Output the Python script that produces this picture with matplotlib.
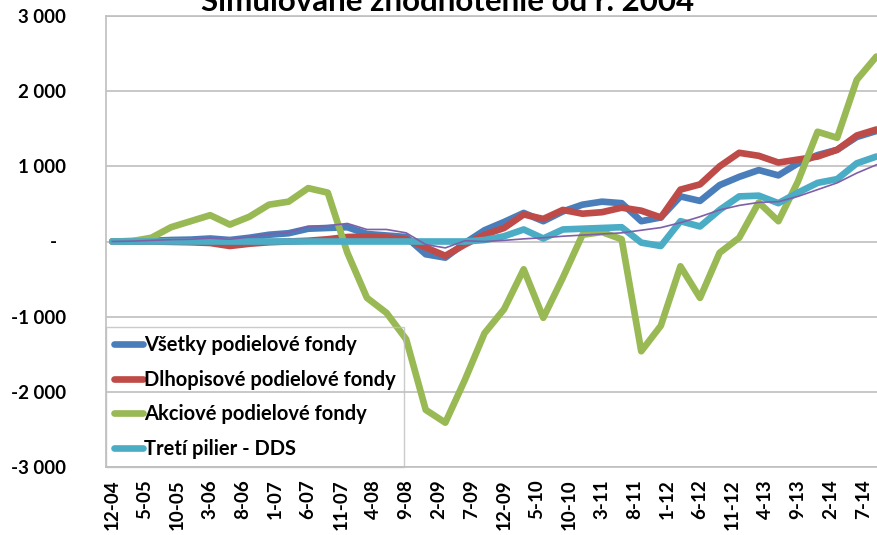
import matplotlib
matplotlib.use("Agg")
import matplotlib.pyplot as plt
from matplotlib.ticker import FixedLocator

# mesiace od 12-04 (stvrtrocne data)
mesiace = list(range(0, 118, 3))

vsetky = [0, 5, 10, 20, 25, 40, 20, 50, 90, 110, 170, 180, 190, 100, 80, 60, -170, -215, -20, 150,
          260, 380, 270, 400, 490, 530, 510, 270, 320, 600, 540, 750, 860, 950, 880, 1040, 1150, 1220, 1390, 1470]
dlhopisove = [0, 0, 0, -5, -10, -20, -60, -30, -10, 0, 10, 30, 60, 65, 55, 30, -80, -190, -40, 90,
              180, 360, 300, 420, 370, 390, 450, 410, 320, 690, 760, 1000, 1180, 1140, 1050, 1090, 1130, 1220, 1410, 1490]
akciove = [0, 5, 50, 190, 270, 350, 225, 330, 490, 530, 710, 650, -150, -750, -950, -1300, -2240, -2410, -1840, -1220,
           -900, -370, -1015, -480, 90, 125, 30, -1460, -1120, -330, -750, -150, 50, 520, 270, 800, 1460, 1380, 2150, 2460]
treti_pilier = [0, 0, 0, 0, 0, 0, 0, 0, 0, 0, 0, 0, 0, 0, 0, 0, 0, 0, 0, 20,
                70, 160, 40, 160, 170, 180, 190, -15, -60, 270, 200, 420, 600, 610, 510, 650, 780, 830, 1040, 1130]
fialova = [0, 5, 15, 25, 30, 45, 30, 60, 100, 120, 200, 210, 240, 160, 160, 115, -40, -85, 10, 0,
           15, 35, 50, 70, 85, 100, 115, 150, 185, 250, 330, 420, 480, 520, 530, 600, 690, 780, 910, 1020]

popisky_x = ["12-04", "5-05", "10-05", "3-06", "8-06", "1-07", "6-07", "11-07", "4-08", "9-08", "2-09", "7-09",
             "12-09", "5-10", "10-10", "3-11", "8-11", "1-12", "6-12", "11-12", "4-13", "9-13", "2-14", "7-14"]
pozicie_x = list(range(0, 116, 5))
hodnoty_y = [-3000, -2000, -1000, 0, 1000, 2000, 3000]
popisky_y = ["-3 000", "-2 000", "-1 000", "-  ", "1 000", "2 000", "3 000"]

nazvy = ["Všetky podielové fondy", "Dlhopisové podielové fondy", "Akciové podielové fondy", "Tretí pilier - DDS"]
farby = ["#4A7EBB", "#BE4B48", "#98B954", "#4BACC6"]

plt.rcParams['font.family'] = ['Lato', 'DejaVu Sans']
plt.rcParams['font.weight'] = 'bold'

fig = plt.figure(figsize=(8.77, 5.35), dpi=100)
ax = fig.add_axes([106/877, 68/535, 771/877, 451/535])

serie = [vsetky, dlhopisove, akciove, treti_pilier]
for hodnoty, nazov, farba in zip(serie, nazvy, farby):
    ax.plot(mesiace, hodnoty, color=farba, lw=4.8, label=nazov,
            solid_capstyle='round', solid_joinstyle='round')
ax.plot(mesiace, fialova, color="#7F5FA8", lw=1.2, label='_nolegend_')

ax.set_xlim(-0.96, 117.1)
ax.set_ylim(-3000, 3000)
ax.xaxis.set_major_locator(FixedLocator(pozicie_x))
ax.set_xticklabels(popisky_x, rotation=90, fontsize=13.5, fontweight='bold')
ax.set_yticks(hodnoty_y)
ax.set_yticklabels(popisky_y, fontsize=13.5, fontweight='bold')
ax.tick_params(axis='y', length=0, pad=29)
ax.tick_params(axis='x', length=0, pad=9)

ax.grid(axis='y', color='#BFBFBF', lw=1.2)
ax.set_axisbelow(True)
for s in ['left', 'top', 'bottom']:
    ax.spines[s].set_color('#BFBFBF')
    ax.spines[s].set_linewidth(1.2)
ax.spines['right'].set_visible(False)

leg = ax.legend(loc='lower left', bbox_to_anchor=(0, 0), borderaxespad=0, fontsize=14.5,
                handlelength=1.45, handletextpad=0.05, labelspacing=0.72, borderpad=0.4,
                frameon=True, fancybox=False)
leg.get_frame().set_edgecolor('#BFBFBF')
leg.get_frame().set_facecolor('none')
leg.get_frame().set_linewidth(1.0)
for t in leg.get_texts():
    t.set_fontweight('bold')

fig.text(448/877, 1 - 11/535, "Simulované zhodnotenie od r. 2004", ha='center', va='baseline',
         fontsize=22.5, fontweight='bold')

fig.savefig("out.png", dpi=100)
